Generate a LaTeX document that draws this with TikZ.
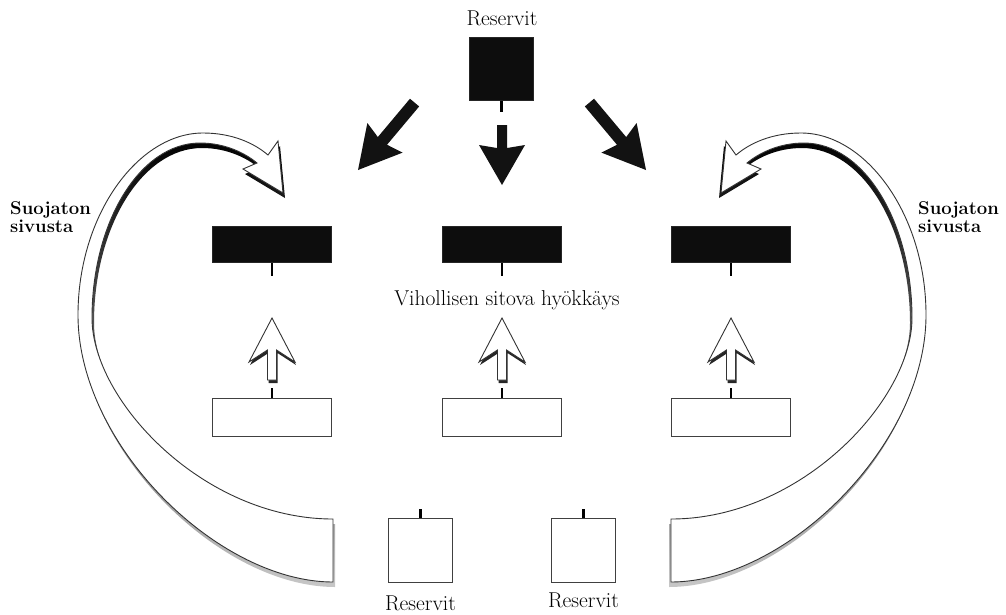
\documentclass[tikz,border=0pt]{standalone}
\newcommand\flankshape{(333,582) .. controls (218,582) and (78,445) .. (78,315) .. controls (78,215) and (138,133) .. (203,133) .. controls (232,133) and (254,143) .. (268,155) -- (278,141) -- (283,193) -- (243,169) -- (257,163) .. controls (245,153) and (225,143) .. (200,143) .. controls (140,143) and (92,222) .. (92,318) .. controls (92,400) and (203,519) .. (333,519) -- cycle}
% block arrow pointing along +x with tip at origin: #1 length, #2 half shaft, #3 head length, #4 head half width, #5 notch
\newcommand\blkarrowshape[5]{(-#1,-#2) -- (-#3+#5,-#2) -- (-#3,-#4) -- (0,0) -- (-#3,#4) -- (-#3+#5,#2) -- (-#1,#2) -- cycle}
\newcommand\flankhalf{%
  \shade[top color=black, bottom color=black!22, shift={(2,5)}] \flankshape;
  \draw[fill=white, draw=black!80, line width=0.9pt] \flankshape;
  \begin{scope}[shift={(358,170)}, rotate=-130]
    \fill[black!93] \blkarrowshape{88}{6}{42}{23}{4};
  \end{scope}}
\newcommand\uparrowat[1]{%
  \begin{scope}[shift={#1}, rotate=90]
    \fill[black!85, shift={(-3,1)}] \blkarrowshape{62}{4.5}{44}{23}{12};
    \draw[fill=white, draw=black!80, line width=0.9pt] \blkarrowshape{62}{4.5}{44}{23}{12};
  \end{scope}}
\begin{document}
\begin{tikzpicture}[x=1pt,y=-1pt,
  bar/.style={fill=black!95, draw=black!85, line width=0.8pt, minimum width=119pt, minimum height=36pt, inner sep=0pt},
  wbox/.style={fill=white, draw=black!75, line width=1.2pt, minimum width=119pt, minimum height=38pt, inner sep=0pt},
  sq/.style={fill=white, draw=black!75, line width=1.2pt, minimum width=64pt, minimum height=64pt, inner sep=0pt},
  tick/.style={line width=2.6pt, draw=black},
  lbl/.style={font=\fontsize{21.5}{24}\selectfont, inner sep=0pt, text=black},
  flanklbl/.style={font=\fontsize{18.5}{18}\selectfont\bfseries, inner sep=0pt, anchor=base west, text=black}
]
\useasboundingbox (0,0) rectangle (1006,614);

% flanking arrows (left and mirrored right)
\flankhalf
\begin{scope}[xshift=1004pt, xscale=-1]
  \flankhalf
\end{scope}

% top reserve
\node[lbl, anchor=base] (rtoplbl) at (502,25) {Reservit};
\node[bar, minimum width=64pt, minimum height=63pt] (rtop) at (501.5,69) {};
\draw[tick] (rtop.south) -- ++(0,11);
\begin{scope}[shift={(502,185)}, rotate=-90]
  \fill[black!93] \blkarrowshape{60}{5}{40}{23}{3};
\end{scope}

% front line units
\node[bar] (bl) at (272,244.5) {};
\node[bar] (bm) at (502,244.5) {};
\node[bar] (br) at (731,244.5) {};
\foreach \n in {bl,bm,br} \draw[tick] (\n.south) -- ++(0,13);

\node[lbl, anchor=base] (vih) at (507,305) {Vihollisen sitova hyökkäys};

% attacking units
\node[wbox] (wl) at (272,417.5) {};
\node[wbox] (wm) at (502,417.5) {};
\node[wbox] (wr) at (731,417.5) {};
\foreach \n in {wl,wm,wr} \draw[tick] (\n.north) -- ++(0,-10);
\uparrowat{(272,318)}
\uparrowat{(502,318)}
\uparrowat{(731,318)}

% bottom reserves
\node[sq] (sl) at (420.5,550.5) {};
\node[sq] (sr) at (583.5,550.5) {};
\draw[tick] (sl.north) -- ++(0,-9);
\draw[tick] (sr.north) -- ++(0,-9);
\node[lbl, anchor=base] (sllbl) at (420.5,610) {Reservit};
\node[lbl, anchor=base] (srlbl) at (583.5,607) {Reservit};

% flank labels
\node[flanklbl] (fl1) at (10,214) {Suojaton};
\node[flanklbl] (fl2) at (10,232) {sivusta};
\node[flanklbl] (fr1) at (918,214) {Suojaton};
\node[flanklbl] (fr2) at (918,232) {sivusta};
\end{tikzpicture}
\end{document}
